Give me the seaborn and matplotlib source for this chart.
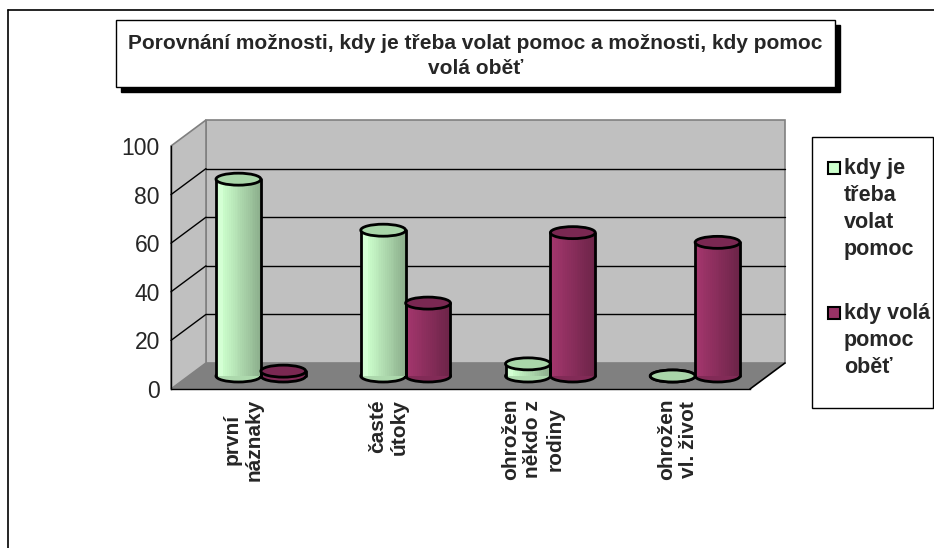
import numpy as np
import pandas as pd
import matplotlib
matplotlib.use("Agg")
import matplotlib.pyplot as plt
import seaborn as sns
from matplotlib.patches import Rectangle, Polygon, Ellipse
from matplotlib.colors import to_rgb

# ---------------- data ----------------
categories = ["první\nnáznaky", "časté\nútoky", "ohrožen\nněkdo z\nrodiny", "ohrožen\nvl. život"]
series_names = ["kdy je třeba volat pomoc", "kdy volá pomoc oběť"]
legend_labels = ["kdy je\ntřeba\nvolat\npomoc", "kdy volá\npomoc\noběť"]
values_call_needed = [81, 60, 5, 0]
values_victim_calls = [2, 30, 59, 55]
y_ticks = [0, 20, 40, 60, 80, 100]
title = "Porovnání možnosti, kdy je třeba volat pomoc a možnosti, kdy pomoc\nvolá oběť"
colors = ["#CCFFCC", "#993366"]
top_colors = ["#A9D6A9", "#7A2852"]

df = pd.DataFrame({
    "category": categories * 2,
    "value": values_call_needed + values_victim_calls,
    "series": [series_names[0]] * 4 + [series_names[1]] * 4,
})

sns.set_style("white")
plt.rcParams["font.family"] = ["Liberation Sans", "DejaVu Sans"]

W, H = 934, 548
fig = plt.figure(figsize=(W / 100, H / 100), dpi=100)
fig.patch.set_facecolor("white")

# front plane of the plot in pixels
ax_l, ax_r, ax_top, ax_bot = 171, 750, 146, 389
ax = fig.add_axes([ax_l / W, 1 - ax_bot / H, (ax_r - ax_l) / W, (ax_bot - ax_top) / H])
ax.set_facecolor("none")

sns.barplot(data=df, x="category", y="value", hue="series", palette=colors,
            width=0.62, ax=ax, legend=False, saturation=1, edgecolor="none", zorder=5)
ax.set_xlim(-0.5, 3.5)
ax.set_ylim(0, 100)

# pixel -> data unit conversions
px_dx = 4 / (ax_r - ax_l)
px_dy = 100 / (ax_bot - ax_top)
DX, DY = 35 * px_dx, 26 * px_dy          # full depth
MX, MY = DX / 2, DY / 2                  # mid depth (bars)
ELL_H = 12 * px_dy                      # ellipse height in data units

# ---- walls and floor ----
wall_c, edge_c = "#C0C0C0", "#808080"
ax.add_patch(Rectangle((-0.5 + DX, DY), 4, 100, facecolor=wall_c, edgecolor=edge_c,
                       lw=1.2, clip_on=False, zorder=0))
ax.add_patch(Polygon([(-0.5, 0), (-0.5, 100), (-0.5 + DX, 100 + DY), (-0.5 + DX, DY)],
                     closed=True, facecolor=wall_c, edgecolor=edge_c, lw=1.2,
                     clip_on=False, zorder=0))
for v in y_ticks[1:-1]:
    ax.plot([-0.5 + DX, 3.5 + DX], [v + DY, v + DY], color="black", lw=1, clip_on=False, zorder=1)
    ax.plot([-0.5, -0.5 + DX], [v, v + DY], color="black", lw=1, clip_on=False, zorder=1)
ax.add_patch(Polygon([(-0.5, 0), (3.5, 0), (3.5 + DX, DY), (-0.5 + DX, DY)], closed=True,
                     facecolor="#808080", edgecolor="none", clip_on=False, zorder=2))
ax.plot([3.5, 3.5 + DX], [0, DY], color="black", lw=1.2, clip_on=False, zorder=2)

# ---- cylinders from seaborn bars ----
def shade(rgb, f):
    return tuple(min(1, max(0, c * f)) for c in rgb)

n_strips = 24
bars = [b for b in ax.patches if isinstance(b, Rectangle) and b.get_zorder() == 5]
for b in bars:
    x0, w, h = b.get_x(), b.get_width(), b.get_height()
    base = to_rgb(b.get_facecolor())
    si = 0 if np.allclose(base, to_rgb(colors[0]), atol=0.02) else 1
    b.set_visible(False)
    xs = x0 + MX
    cx = xs + w / 2
    y0 = MY
    y1 = MY + h
    ax.add_patch(Ellipse((cx, y0), w, ELL_H, facecolor=shade(base, 0.85), edgecolor="black",
                         lw=2, clip_on=False, zorder=6))
    if h > 0:
        for k in range(n_strips):
            t = (k + 0.5) / n_strips
            f = 1.0 - 0.32 * max(0, t - 0.15) / 0.85 + (0.04 if t < 0.15 else 0)
            if si == 1:
                f = 1.08 - 0.38 * t
            ax.add_patch(Rectangle((xs + k * w / n_strips, y0), w / n_strips * 1.05, h,
                                   facecolor=shade(base, f), edgecolor="none",
                                   clip_on=False, zorder=7))
        ax.plot([xs, xs], [y0, y1], color="black", lw=2, clip_on=False, zorder=8)
        ax.plot([xs + w, xs + w], [y0, y1], color="black", lw=2, clip_on=False, zorder=8)
    ax.add_patch(Ellipse((cx, y1), w, ELL_H, facecolor=top_colors[si], edgecolor="black",
                         lw=2, clip_on=False, zorder=9))

# ---- axes styling ----
for s in ["top", "right"]:
    ax.spines[s].set_visible(False)
for s in ["left", "bottom"]:
    ax.spines[s].set_color("black")
    ax.spines[s].set_linewidth(1)
    ax.spines[s].set_zorder(10)
ax.set_yticks(y_ticks)
ax.set_yticklabels([str(v) for v in y_ticks], fontsize=16.5)
ax.tick_params(axis="y", direction="out", length=5, width=1, color="black", pad=3)
ax.set_xticks(range(len(categories)))
ax.set_xticklabels(categories, rotation=90, fontsize=15, fontweight="bold",
                   multialignment="center", linespacing=1.2)
ax.tick_params(axis="x", which="major", length=0, pad=7)
ax.set_xticks([-0.5, 0.5, 1.5, 2.5, 3.5], minor=True)
ax.tick_params(axis="x", which="minor", direction="out", length=6, width=1, color="black")
ax.set_xlabel("")
ax.set_ylabel("")

# ---- outer frame ----
fig.add_artist(plt.Line2D([8 / W, 1], [1 - 10 / H, 1 - 10 / H], color="black", lw=1.2))
fig.add_artist(plt.Line2D([8 / W, 8 / W], [0, 1 - 10 / H], color="black", lw=1.2))

# ---- title box ----
tx0, ty0, tx1, ty1 = 116, 20, 835, 87
fig.add_artist(Rectangle(((tx0 + 5) / W, 1 - (ty1 + 5) / H), (tx1 - tx0) / W, (ty1 - ty0) / H,
                         transform=fig.transFigure, facecolor="black", edgecolor="black"))
fig.add_artist(Rectangle((tx0 / W, 1 - ty1 / H), (tx1 - tx0) / W, (ty1 - ty0) / H,
                         transform=fig.transFigure, facecolor="white", edgecolor="black", lw=1))
fig.text((tx0 + tx1) / 2 / W, 1 - 56 / H, title, ha="center", va="center",
         fontsize=15, fontweight="bold", linespacing=1.45)

# ---- legend ----
lx0, ly0, lx1, ly1 = 812, 137, 933, 408
fig.add_artist(Rectangle((lx0 / W, 1 - ly1 / H), (lx1 - lx0) / W, (ly1 - ly0) / H,
                         transform=fig.transFigure, facecolor="white", edgecolor="black", lw=1))
leg_tops = [158, 303]
marker_tops = [162, 307]
for i, lab in enumerate(legend_labels):
    fig.add_artist(Rectangle((828 / W, 1 - (marker_tops[i] + 12) / H), 12 / W, 12 / H,
                             transform=fig.transFigure, facecolor=colors[i],
                             edgecolor="black", lw=1.5))
    fig.text(844 / W, 1 - leg_tops[i] / H, lab, ha="left", va="top", fontsize=15.5,
             fontweight="bold", linespacing=1.38)

fig.savefig("out.png", dpi=100)
